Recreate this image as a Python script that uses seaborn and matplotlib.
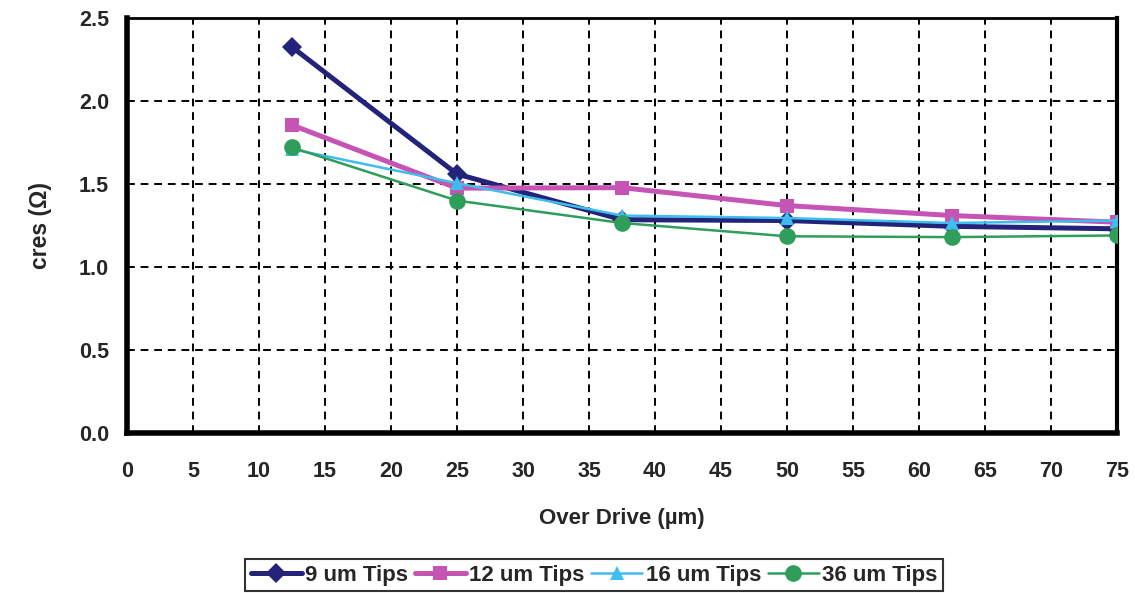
import matplotlib
matplotlib.use("Agg")
import matplotlib.pyplot as plt
import seaborn as sns
import pandas as pd

overdrive = [12.5, 25, 37.5, 50, 62.5, 75]
tips_9um = [2.325, 1.56, 1.285, 1.28, 1.245, 1.23]
tips_12um = [1.855, 1.475, 1.478, 1.37, 1.31, 1.27]
tips_16um = [1.71, 1.505, 1.31, 1.295, 1.265, 1.28]
tips_36um = [1.72, 1.40, 1.265, 1.185, 1.18, 1.19]
series_names = ["9 um Tips", "12 um Tips", "16 um Tips", "36 um Tips"]
x_ticks = list(range(0, 80, 5))
y_ticks = [0.0, 0.5, 1.0, 1.5, 2.0, 2.5]

sns.set_theme(style="white")
plt.rcParams['font.family'] = ['Liberation Sans', 'DejaVu Sans']

df = pd.DataFrame({
    "x": overdrive * 4,
    "y": tips_9um + tips_12um + tips_16um + tips_36um,
    "series": sum([[n] * len(overdrive) for n in series_names], []),
})

colors = ["#23237A", "#C654B4", "#3EBDEE", "#2E9E5A"]
markers = ["D", "s", "^", "o"]
lws = [3.6, 3.6, 1.8, 1.8]
msizes = [10, 9.5, 10, 12]

fig = plt.figure(figsize=(11.35, 5.93), dpi=100)
ax = fig.add_axes([127/1135, 1 - 433/593, (1117-127)/1135, (433-18)/593])

for name, c, m, lw, ms in zip(series_names, colors, markers, lws, msizes):
    sub = df[df["series"] == name]
    sns.lineplot(data=sub, x="x", y="y", ax=ax, color=c, marker=m, lw=lw,
                 markersize=ms, markeredgewidth=0, label=name, zorder=3)

ax.set_xlim(0, 75)
ax.set_ylim(0, 2.5)
ax.set_xticks(x_ticks)
ax.set_yticks(y_ticks)
ax.set_yticklabels([f"{v:.1f}" for v in y_ticks])
ax.grid(True, color="black", linestyle=(0, (4, 3)), linewidth=1.4)
ax.set_axisbelow(True)

for side, w in [("left", 4), ("bottom", 4), ("top", 2), ("right", 3)]:
    ax.spines[side].set_visible(True)
    ax.spines[side].set_color("black")
    ax.spines[side].set_linewidth(w)

ax.tick_params(axis="x", direction="out", length=9, width=1.2, color="black",
               pad=11, labelsize=15.5)
ax.tick_params(axis="y", length=0, pad=13, labelsize=15.5)
for lab in ax.get_xticklabels() + ax.get_yticklabels():
    lab.set_fontweight("bold")

ax.set_xlabel("Over Drive (\u00b5m)", fontsize=16, fontweight="bold", labelpad=19)
ax.set_ylabel("cres (\u03a9)", fontsize=16.5, fontweight="bold", labelpad=19)

leg = ax.legend(loc="center", bbox_to_anchor=(594/1135, 1 - 575/593),
                bbox_transform=fig.transFigure, ncol=4,
                frameon=True, fancybox=False, edgecolor="black",
                prop={"weight": "bold", "size": 16}, handlelength=2.3,
                handletextpad=0.15, columnspacing=0.3, borderpad=0.25)
leg.get_frame().set_linewidth(1.5)

fig.savefig("out.png", dpi=100)
